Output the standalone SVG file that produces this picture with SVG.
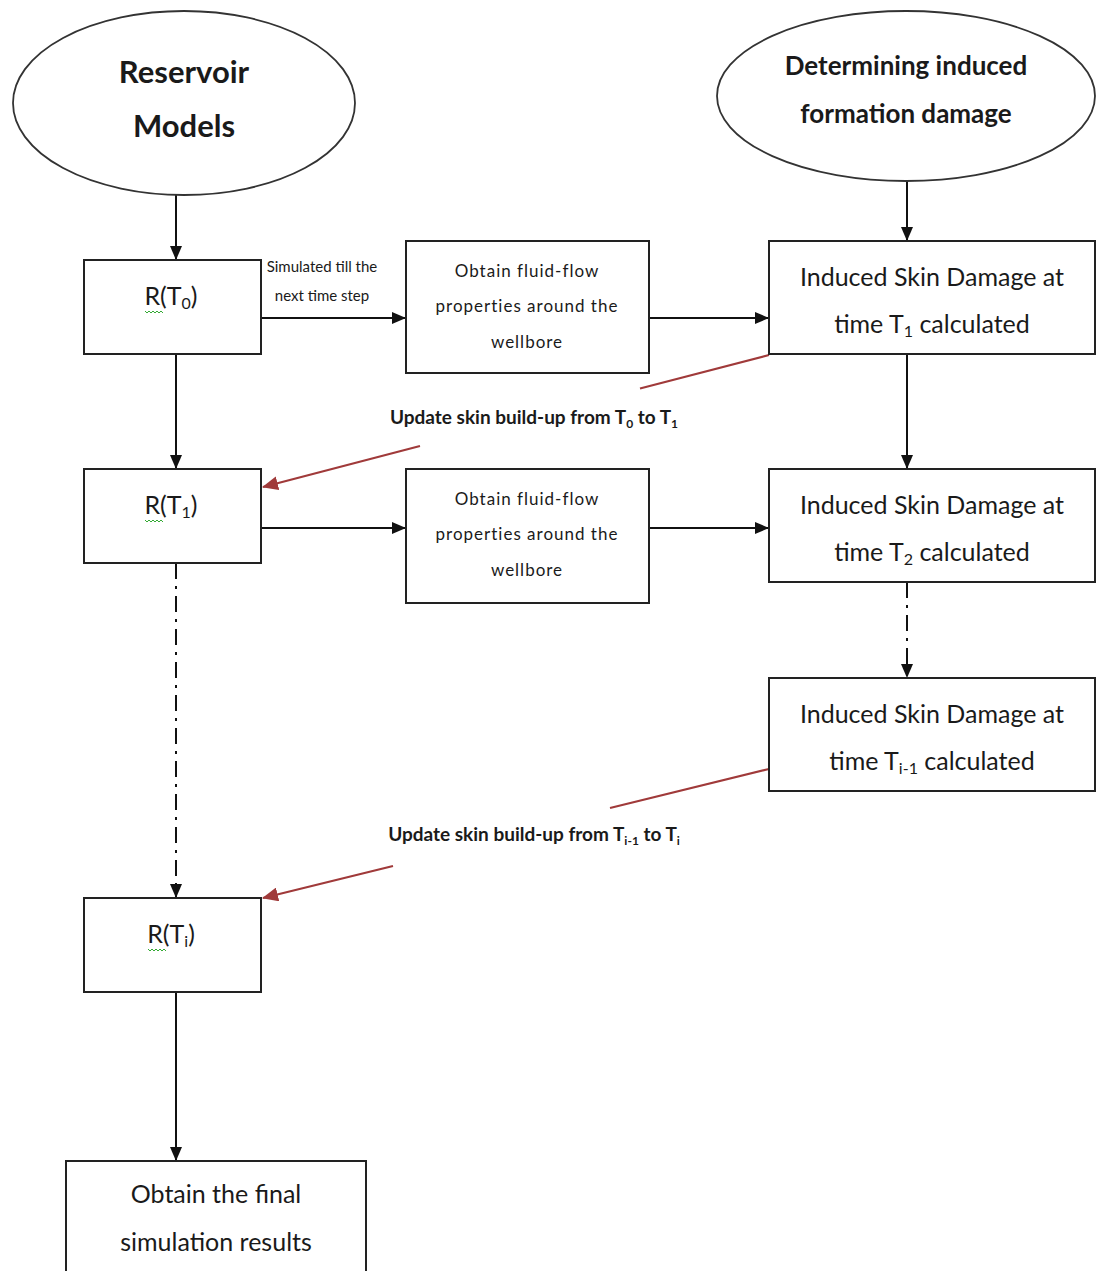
<svg xmlns="http://www.w3.org/2000/svg" width="1100" height="1271" viewBox="0 0 1100 1271">
<style>
.box{fill:#fff;stroke:#222;stroke-width:2}
.ell{fill:#fff;stroke:#333;stroke-width:1.8}
.t{font-family:Lato,"Liberation Sans",sans-serif;fill:#1a1a1a;text-anchor:middle}
.b{font-weight:bold}
.c{stroke:#111;stroke-width:2;fill:none}
.dd{stroke-dasharray:16 7 3 7}
.red{stroke:#a03a3a;stroke-width:2.2;fill:none}
.sq{stroke:#3a3;stroke-width:1;fill:none}
.fl{font-size:17px;letter-spacing:1px}
</style>
<defs>
<marker id="ah" markerWidth="14" markerHeight="12" refX="13" refY="6" orient="auto" markerUnits="userSpaceOnUse"><path d="M0,0 L14,6 L0,12 Z" fill="#111"/></marker>
<marker id="ahr" markerWidth="16" markerHeight="14" refX="15" refY="7" orient="auto" markerUnits="userSpaceOnUse"><path d="M0,0 L16,7 L0,14 Z" fill="#a03a3a"/></marker>
</defs>
<rect width="1100" height="1271" fill="#fff"/>
<g id="connectors">
<path class="c" d="M176,195 L176,259" marker-end="url(#ah)"/>
<path class="c" d="M907,181 L907,240" marker-end="url(#ah)"/>
<path class="c" d="M261,318 L405,318" marker-end="url(#ah)"/>
<path class="c" d="M649,318 L768,318" marker-end="url(#ah)"/>
<path class="c" d="M176,354 L176,468" marker-end="url(#ah)"/>
<path class="c" d="M907,354 L907,468" marker-end="url(#ah)"/>
<path class="c" d="M261,528 L405,528" marker-end="url(#ah)"/>
<path class="c" d="M649,528 L768,528" marker-end="url(#ah)"/>
<path class="c dd" d="M176,563 L176,897" marker-end="url(#ah)"/>
<path class="c dd" d="M907,582 L907,677" marker-end="url(#ah)"/>
<path class="c" d="M176,992 L176,1160" marker-end="url(#ah)"/>
<path class="red" d="M769,355 L640,388.5 M420,446 L263,487" marker-end="url(#ahr)"/>
<path class="red" d="M769,769 L610,808 M393,866 L263,898" marker-end="url(#ahr)"/>
<text class="t" x="322" y="272" font-size="15">Simulated till the</text>
<text class="t" x="322" y="301" font-size="15">next time step</text>
<text class="t b" x="534" y="424" font-size="19">Update skin build-up from T<tspan font-size="12" dy="4">0</tspan><tspan dy="-4"> to T</tspan><tspan font-size="12" dy="4">1</tspan></text>
<text class="t b" x="534" y="841" font-size="19">Update skin build-up from T<tspan font-size="12" dy="4">i-1</tspan><tspan dy="-4"> to T</tspan><tspan font-size="12" dy="4">i</tspan></text>
</g>
<g id="reservoir-models">
<ellipse class="ell" cx="184" cy="103" rx="171" ry="92"/>
<text class="t b" x="184" y="83" font-size="31">Reservoir</text>
<text class="t b" x="184" y="137" font-size="31">Models</text>
</g>
<g id="determining-damage">
<ellipse class="ell" cx="906" cy="96" rx="189" ry="85"/>
<text class="t b" x="906" y="75" font-size="26">Determining induced</text>
<text class="t b" x="906" y="123" font-size="26">formation damage</text>
</g>
<g id="r-t0">
<rect class="box" x="84" y="260" width="177" height="94"/>
<text class="t" x="171" y="305" font-size="25">R(T<tspan font-size="16" dy="4">0</tspan><tspan dy="-4">)</tspan></text>
<path class="sq" d="M145,311 l2,2 l2,-2 l2,2 l2,-2 l2,2 l2,-2 l2,2 l2,-2 l2,2"/>
</g>
<g id="fluid-1">
<rect class="box" x="406" y="241" width="243" height="132"/>
<text class="t fl" x="527" y="277">Obtain fluid-flow</text>
<text class="t fl" x="527" y="312">properties around the</text>
<text class="t fl" x="527" y="348">wellbore</text>
</g>
<g id="induced-1">
<rect class="box" x="769" y="241" width="326" height="113"/>
<text class="t" x="932" y="286" font-size="25">Induced Skin Damage at</text>
<text class="t" x="932" y="333" font-size="25">time T<tspan font-size="16" dy="4">1</tspan><tspan dy="-4"> calculated</tspan></text>
</g>
<g id="r-t1">
<rect class="box" x="84" y="469" width="177" height="94"/>
<text class="t" x="171" y="514" font-size="25">R(T<tspan font-size="16" dy="4">1</tspan><tspan dy="-4">)</tspan></text>
<path class="sq" d="M145,520 l2,2 l2,-2 l2,2 l2,-2 l2,2 l2,-2 l2,2 l2,-2 l2,2"/>
</g>
<g id="fluid-2">
<rect class="box" x="406" y="469" width="243" height="134"/>
<text class="t fl" x="527" y="505">Obtain fluid-flow</text>
<text class="t fl" x="527" y="540">properties around the</text>
<text class="t fl" x="527" y="576">wellbore</text>
</g>
<g id="induced-2">
<rect class="box" x="769" y="469" width="326" height="113"/>
<text class="t" x="932" y="514" font-size="25">Induced Skin Damage at</text>
<text class="t" x="932" y="561" font-size="25">time T<tspan font-size="16" dy="4">2</tspan><tspan dy="-4"> calculated</tspan></text>
</g>
<g id="induced-3">
<rect class="box" x="769" y="678" width="326" height="113"/>
<text class="t" x="932" y="723" font-size="25">Induced Skin Damage at</text>
<text class="t" x="932" y="770" font-size="25">time T<tspan font-size="16" dy="4">i-1</tspan><tspan dy="-4"> calculated</tspan></text>
</g>
<g id="r-ti">
<rect class="box" x="84" y="898" width="177" height="94"/>
<text class="t" x="171" y="943" font-size="25">R(T<tspan font-size="16" dy="4">i</tspan><tspan dy="-4">)</tspan></text>
<path class="sq" d="M148,949 l2,2 l2,-2 l2,2 l2,-2 l2,2 l2,-2 l2,2 l2,-2 l2,2"/>
</g>
<g id="final-results">
<rect class="box" x="66" y="1161" width="300" height="120"/>
<text class="t" x="216" y="1203" font-size="25">Obtain the final</text>
<text class="t" x="216" y="1251" font-size="25">simulation results</text>
</g>
</svg>
